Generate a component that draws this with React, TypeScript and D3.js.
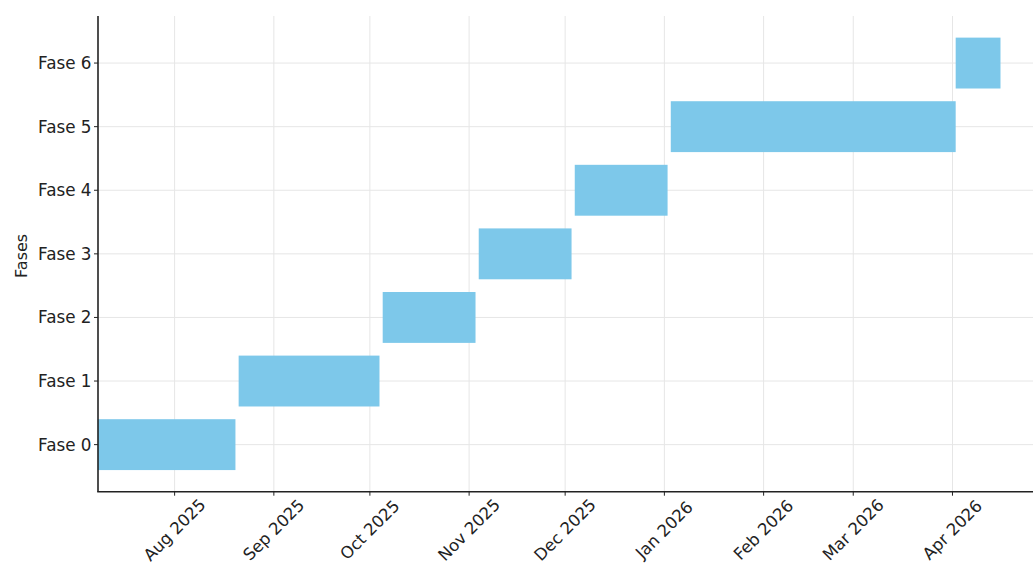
import React from "react";
import * as d3 from "d3";

const phases = ["Fase 0", "Fase 1", "Fase 2", "Fase 3", "Fase 4", "Fase 5", "Fase 6"];
const startDates = ["2025-07-08", "2025-08-21", "2025-10-05", "2025-11-04", "2025-12-04", "2026-01-03", "2026-04-02"];
const endDates = ["2025-08-20", "2025-10-04", "2025-11-03", "2025-12-03", "2026-01-02", "2026-04-02", "2026-04-16"];
const xDomain = ["2025-07-08", "2026-04-26"];
const yLabel = "Fases";

const W = 1033;
const H = 567;
const FONT = "'DejaVu Sans', sans-serif";

export default function App() {
  const parse = (s: string) => new Date(s + "T00:00:00Z");
  const x = d3.scaleUtc().domain(xDomain.map(parse)).range([97.8, 1032.5]);
  const y = d3.scaleLinear().domain([-0.74, 6.74]).range([491.7, 16]);
  const left = 98;
  const bottom = 491.7;
  const ticks = x.ticks(d3.utcMonth.every(1)!).filter((d) => x(d) >= left && x(d) <= W);
  const fmt = d3.utcFormat("%b %Y");
  const barH = y(0) - y(0.8);

  return (
    <svg width={W} height={H} style={{ position: "absolute", left: 0, top: 0, background: "#fff" }} fontFamily={FONT}>
      {/* grid */}
      <g stroke="#e6e6e6" strokeWidth={1}>
        {ticks.map((d, i) => (
          <line key={"gx" + i} x1={x(d)} x2={x(d)} y1={16} y2={bottom} />
        ))}
        {phases.map((p, i) => (
          <line key={"gy" + i} x1={left} x2={W} y1={y(i)} y2={y(i)} />
        ))}
      </g>
      {/* bars */}
      <g fill="#7dc8ea">
        {phases.map((p, i) => {
          const x0 = x(parse(startDates[i]));
          const x1 = x(parse(endDates[i]));
          return <rect key={p} x={x0} y={y(i) - barH / 2} width={x1 - x0} height={barH} />;
        })}
      </g>
      {/* spines */}
      <line x1={left} x2={left} y1={16} y2={bottom} stroke="#222" strokeWidth={1.6} />
      <line x1={left - 0.8} x2={W} y1={bottom} y2={bottom} stroke="#222" strokeWidth={1.6} />
      {/* y ticks */}
      {phases.map((p, i) => (
        <g key={"yt" + i}>
          <line x1={left - 4} x2={left} y1={y(i)} y2={y(i)} stroke="#222" strokeWidth={1} />
          <text x={left - 6.5} y={y(i)} textAnchor="end" dominantBaseline="central" fontSize={16.8} fill="#222">
            {p}
          </text>
        </g>
      ))}
      {/* x ticks */}
      {ticks.map((d, i) => {
        const tx = x(d);
        const cy = 530;
        return (
          <g key={"xt" + i}>
            <line x1={tx} x2={tx} y1={bottom} y2={bottom + 4} stroke="#222" strokeWidth={1} />
            <text
              x={tx}
              y={cy}
              textAnchor="middle"
              dominantBaseline="central"
              fontSize={16.5}
              fill="#222"
              transform={`rotate(-45 ${tx} ${cy})`}
            >
              {fmt(d)}
            </text>
          </g>
        );
      })}
      <text
        x={22}
        y={(16 + bottom) / 2 + 2}
        textAnchor="middle"
        dominantBaseline="central"
        fontSize={16}
        fill="#222"
        transform={`rotate(-90 22 ${(16 + bottom) / 2 + 2})`}
      >
        {yLabel}
      </text>
    </svg>
  );
}
